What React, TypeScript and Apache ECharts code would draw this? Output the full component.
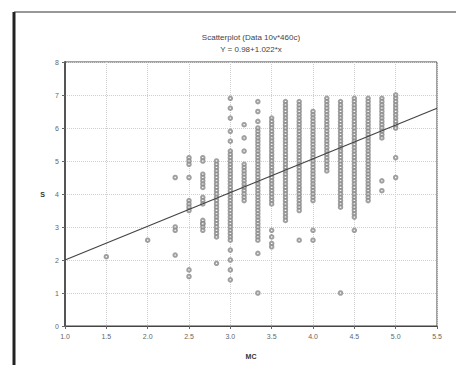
import React, { useEffect, useRef } from "react";
import * as echarts from "echarts";

const titleText = "Scatterplot (Data 10v*460c)";
const subtitleText = "Y = 0.98+1.022*x";
const xName = "MC";
const yName = "S";

const xMin = 1.0;
const xMax = 5.5;
const xStep = 0.5;
const yMin = 0;
const yMax = 8;
const yStep = 1;

// column x positions (means in steps of 1/6)
const colX = [2.5, 2.667, 2.833, 3.0, 3.167, 3.333, 3.5, 3.667, 3.833, 4.0, 4.167, 4.333, 4.5, 4.667, 4.833, 5.0];

const colY: number[][] = [
  [5.1, 5.0, 4.9, 4.5, 3.8, 3.7, 3.6, 3.5, 1.7, 1.5],
  [5.1, 5.0, 4.6, 4.5, 4.4, 4.3, 4.2, 3.9, 3.8, 3.7, 3.2, 3.1, 3.0, 2.9],
  [5.0, 4.9, 4.8, 4.7, 4.6, 4.5, 4.4, 4.3, 4.2, 4.1, 4.0, 3.9, 3.8, 3.7, 3.6, 3.5, 3.4, 3.3, 3.2, 3.1, 3.0, 2.9, 2.8, 2.7, 1.9],
  [6.9, 6.6, 6.3, 5.9, 5.6, 5.3, 5.2, 5.1, 5.0, 4.9, 4.8, 4.7, 4.6, 4.5, 4.4, 4.3, 4.2, 4.1, 4.0, 3.9, 3.8, 3.7, 3.6, 3.5, 3.4, 3.3, 3.2, 3.1, 3.0, 2.9, 2.8, 2.7, 2.6, 2.3, 2.0, 1.7, 1.4],
  [6.1, 5.7, 5.3, 4.9, 4.8, 4.7, 4.6, 4.5, 4.4, 4.3, 4.2, 4.1, 4.0, 3.9, 3.8],
  [6.8, 6.5, 6.2, 6.0, 5.9, 5.8, 5.7, 5.6, 5.5, 5.4, 5.3, 5.2, 5.1, 5.0, 4.9, 4.8, 4.7, 4.6, 4.5, 4.4, 4.3, 4.2, 4.1, 4.0, 3.9, 3.8, 3.7, 3.6, 3.5, 3.4, 3.3, 3.2, 3.1, 3.0, 2.9, 2.8, 2.7, 2.6, 2.2, 1.0],
  [6.3, 6.2, 6.1, 6.0, 5.9, 5.8, 5.7, 5.6, 5.5, 5.4, 5.3, 5.2, 5.1, 5.0, 4.9, 4.8, 4.7, 4.6, 4.5, 4.4, 4.3, 4.2, 4.1, 4.0, 3.9, 3.8, 3.7, 2.9, 2.7, 2.5, 2.4],
  [6.8, 6.7, 6.6, 6.5, 6.4, 6.3, 6.2, 6.1, 6.0, 5.9, 5.8, 5.7, 5.6, 5.5, 5.4, 5.3, 5.2, 5.1, 5.0, 4.9, 4.8, 4.7, 4.6, 4.5, 4.4, 4.3, 4.2, 4.1, 4.0, 3.9, 3.8, 3.7, 3.6, 3.5, 3.4, 3.3, 3.2],
  [6.8, 6.7, 6.6, 6.5, 6.4, 6.3, 6.2, 6.1, 6.0, 5.9, 5.8, 5.7, 5.6, 5.5, 5.4, 5.3, 5.2, 5.1, 5.0, 4.9, 4.8, 4.7, 4.6, 4.5, 4.4, 4.3, 4.2, 4.1, 4.0, 3.9, 3.8, 3.7, 3.6, 3.5, 2.6],
  [6.5, 6.4, 6.3, 6.2, 6.1, 6.0, 5.9, 5.8, 5.7, 5.6, 5.5, 5.4, 5.3, 5.2, 5.1, 5.0, 4.9, 4.8, 4.7, 4.6, 4.5, 4.4, 4.3, 4.2, 4.1, 4.0, 3.9, 3.8, 2.9, 2.6],
  [6.9, 6.8, 6.7, 6.6, 6.5, 6.4, 6.3, 6.2, 6.1, 6.0, 5.9, 5.8, 5.7, 5.6, 5.5, 5.4, 5.3, 5.2, 5.1, 5.0, 4.9, 4.8, 4.7],
  [6.8, 6.7, 6.6, 6.5, 6.4, 6.3, 6.2, 6.1, 6.0, 5.9, 5.8, 5.7, 5.6, 5.5, 5.4, 5.3, 5.2, 5.1, 5.0, 4.9, 4.8, 4.7, 4.6, 4.5, 4.4, 4.3, 4.2, 4.1, 4.0, 3.9, 3.8, 3.7, 3.6, 1.0],
  [6.9, 6.8, 6.7, 6.6, 6.5, 6.4, 6.3, 6.2, 6.1, 6.0, 5.9, 5.8, 5.7, 5.6, 5.5, 5.4, 5.3, 5.2, 5.1, 5.0, 4.9, 4.8, 4.7, 4.6, 4.5, 4.4, 4.3, 4.2, 4.1, 4.0, 3.9, 3.8, 3.7, 3.6, 3.5, 3.4, 3.3, 2.9],
  [6.9, 6.8, 6.7, 6.6, 6.5, 6.4, 6.3, 6.2, 6.1, 6.0, 5.9, 5.8, 5.7, 5.6, 5.5, 5.4, 5.3, 5.2, 5.1, 5.0, 4.9, 4.8, 4.7, 4.6, 4.5, 4.4, 4.3, 4.2, 4.1, 4.0, 3.9, 3.8],
  [6.9, 6.8, 6.7, 6.6, 6.5, 6.4, 6.3, 6.2, 6.1, 6.0, 5.9, 5.8, 5.7, 4.4, 4.1],
  [7.0, 6.9, 6.8, 6.7, 6.6, 6.5, 6.4, 6.3, 6.2, 6.1, 6.0, 5.1, 4.5],
];

// sparse points at low x
const sparseX = [1.5, 2.0, 2.333, 2.333, 2.333, 2.333, 2.667];
const sparseY = [2.1, 2.6, 4.5, 3.0, 2.9, 2.15, 3.1];

// regression line endpoints (x, fitted y)
const fitX = [1.0, 5.5];
const fitY = [2.0, 6.6];

const fmtX = (v: number) => v.toFixed(1);

export default function App() {
  const ref = useRef<HTMLDivElement>(null);
  useEffect(() => {
    if (!ref.current) return;
    const chart = echarts.init(ref.current, undefined, { renderer: "svg" });
    const pts: number[][] = [];
    colX.forEach((x, i) => colY[i].forEach((y) => pts.push([x, y])));
    sparseX.forEach((x, i) => pts.push([x, sparseY[i]]));
    const font = "Liberation Sans, Arial, sans-serif";
    chart.setOption({
      animation: false,
      backgroundColor: "#ffffff",
      title: {
        text: titleText,
        subtext: subtitleText,
        left: 246,
        top: 28,
        textAlign: "center",
        itemGap: 4,
        textStyle: { fontSize: 8, fontWeight: "normal", color: "#444", fontFamily: font },
        subtextStyle: { fontSize: 8, color: "#444", fontFamily: font },
      },
      grid: {
        left: 65,
        right: 19,
        top: 62,
        bottom: 38,
        show: true,
        borderColor: "#444",
        borderWidth: 1,
      },
      xAxis: {
        type: "value",
        min: xMin,
        max: xMax,
        interval: xStep,
        name: xName,
        nameLocation: "middle",
        nameGap: 27,
        nameTextStyle: { fontSize: 7, color: "#333", fontFamily: font, fontWeight: "bold" },
        axisLine: { show: true, lineStyle: { color: "#444", width: 1 } },
        axisTick: { show: true, length: 3, lineStyle: { color: "#666" } },
        axisLabel: { fontSize: 7, color: "#666", fontFamily: font, formatter: fmtX, margin: 7 },
        splitLine: { show: true, lineStyle: { color: "#cfcfcf", type: "dotted", width: 1 } },
      },
      yAxis: {
        type: "value",
        min: yMin,
        max: yMax,
        interval: yStep,
        name: yName,
        nameLocation: "middle",
        nameGap: 20,
        nameRotate: 0,
        nameTextStyle: { fontSize: 7, color: "#333", fontFamily: font, fontWeight: "bold" },
        axisLine: { show: true, lineStyle: { color: "#555", width: 2 } },
        axisTick: { show: true, length: 3, lineStyle: { color: "#666" } },
        axisLabel: { fontSize: 7, color: "#666", fontFamily: font, margin: 6 },
        splitLine: { show: true, lineStyle: { color: "#cfcfcf", type: "dotted", width: 1 } },
      },
      graphic: [
        { type: "line", shape: { x1: 14, y1: 12, x2: 14, y2: 365 }, style: { stroke: "#222", lineWidth: 3 } },
        { type: "line", shape: { x1: 14, y1: 12, x2: 456, y2: 12 }, style: { stroke: "#333", lineWidth: 1 } },
      ],
      series: [
        {
          type: "scatter",
          data: pts,
          symbol: "emptyCircle",
          symbolSize: 3.5,
          itemStyle: { color: "#888", borderColor: "#888", borderWidth: 0.7 },
        },
        {
          type: "line",
          data: fitX.map((x, i) => [x, fitY[i]]),
          showSymbol: false,
          symbol: "none",
          lineStyle: { color: "#444", width: 1.2 },
        },
      ],
    });
    return () => chart.dispose();
  }, []);
  return (
    <div
      ref={ref}
      style={{ position: "fixed", left: 0, top: 0, width: 456, height: 365 }}
    />
  );
}
